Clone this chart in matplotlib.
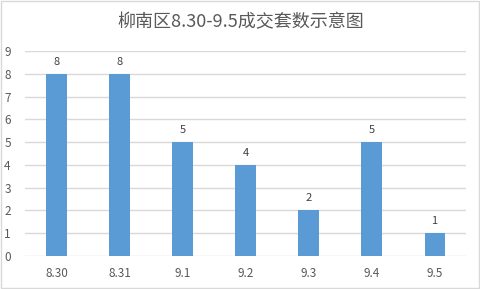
import matplotlib.pyplot as plt
from matplotlib.patches import Rectangle

plt.rcParams['font.family'] = ['Noto Sans CJK SC', 'DejaVu Sans']

categories = ['8.30', '8.31', '9.1', '9.2', '9.3', '9.4', '9.5']
sales = [8, 8, 5, 4, 2, 5, 1]
y_ticks = list(range(0, 10))

fig = plt.figure(figsize=(4.81, 2.89), dpi=100)
ax = fig.add_axes([0.052, 0.1142, 0.917, 0.7093])

x = range(len(categories))
bars = ax.bar(x, sales, width=0.32, color='#5B9BD5', zorder=3)
for xi, v in zip(x, sales):
    ax.annotate(str(v), (xi, v), xytext=(0, 5), textcoords='offset points',
                ha='center', va='bottom', fontsize=8, color='#404040')

ax.set_xlim(-0.5, len(categories) - 0.5)
ax.set_ylim(0, 9)
ax.set_yticks(y_ticks)
ax.set_xticks(list(x))
ax.set_xticklabels(categories)
ax.grid(axis='y', color='#D9D9D9', linewidth=1, zorder=0)
for s in ax.spines.values():
    s.set_visible(False)
ax.tick_params(length=0, labelsize=8.5, colors='#595959')
ax.tick_params(axis='x', pad=8)
ax.tick_params(axis='y', pad=15)
for lab in ax.get_yticklabels():
    lab.set_horizontalalignment('left')

fig.text(0.5, 0.925, '柳南区8.30-9.5成交套数示意图', ha='center', va='center',
         fontsize=13, color='#595959')

# chart border
fig.patches.append(Rectangle((0.002, 0.003), 0.994, 0.994, transform=fig.transFigure,
                             fill=False, edgecolor='#D9D9D9', linewidth=1))

fig.savefig('out.png', dpi=100)
